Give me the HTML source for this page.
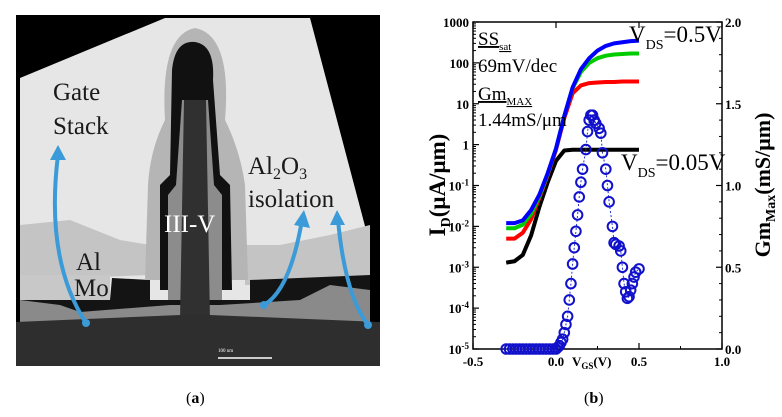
<!DOCTYPE html>
<html><head><meta charset="utf-8"><style>
body{margin:0;background:#fff;}
svg{display:block;font-family:"Liberation Serif",serif;}
</style></head><body>
<svg width="782" height="417" viewBox="0 0 782 417">
<g>
<rect x="16" y="15" width="364" height="351" fill="#000"/>
<polygon points="20,78 165,18 310,18 370,245 370,300 20,300" fill="#e6e6e6"/>
<polygon points="20,225 70,220 120,240 150,245 150,275 20,280" fill="#c4c4c4"/>
<polygon points="20,275 110,275 110,300 20,300" fill="#c8c8c8"/>
<polygon points="245,245 280,245 330,235 370,225 370,285 245,285" fill="#c4c4c4"/>
<polygon points="20,300 110,300 112,278 150,280 150,300 250,300 250,280 370,275 370,320 20,320" fill="#141414"/>
<polygon points="20,300 60,305 80,312 170,305 220,305 300,300 330,285 370,290 370,330 20,330" fill="#8a8a8a"/>
<rect x="16" y="322" width="364" height="44" fill="#3a3a3a"/>
<path d="M165,120 Q160,35 195,28 Q232,35 225,120 Q240,150 245,185 L248,280 L145,280 L148,185 Q150,150 165,120Z" fill="#b5b5b5"/>
<path d="M172,70 Q175,40 195,42 Q215,45 213,80 L220,175 L230,185 L232,290 L160,290 L160,185 L170,175Z" fill="#111"/>
<path d="M182,100 L208,100 L214,185 L222,195 L222,300 L168,300 L168,195 L176,185Z" fill="#8c8c8c"/>
<path d="M184,100 L206,100 L210,320 L180,320Z" fill="#303030"/>
<path d="M16,322 L180,315 L210,315 L380,322 L380,366 L16,366Z" fill="#2e2e2e"/>
<line x1="218" y1="358" x2="272" y2="358" stroke="#fff" stroke-width="1.5"/>
<text x="218" y="352" font-size="5" fill="#fff">100 nm</text>
<g fill="none" stroke="#3b9bd8" stroke-width="4">
<path d="M86,323 Q45,260 58,155"/>
<path d="M264,305 Q290,290 302,220"/>
<path d="M368,325 Q345,295 338,220"/>
</g>
<g fill="#3b9bd8">
<polygon points="50,160 58,145 66,160"/><polygon points="294,225 304,210 310,228"/><polygon points="330,225 337,210 345,225"/>
<circle cx="86" cy="323" r="4"/><circle cx="264" cy="305" r="4"/><circle cx="368" cy="325" r="4"/>
</g>
<g font-size="25" fill="#1a1a1a">
<text x="53" y="100">Gate</text>
<text x="53" y="134">Stack</text>
<text x="76" y="270">Al</text>
<text x="74" y="296">Mo</text>
<text x="248" y="174">Al<tspan font-size="16" dy="5">2</tspan><tspan dy="-5">O</tspan><tspan font-size="16" dy="5">3</tspan></text>
<text x="248" y="207">isolation</text>
<text x="164" y="232" fill="#fff">III-V</text>
</g>
</g>
<text x="186" y="403" font-size="16">(<tspan font-weight="bold">a</tspan>)</text>
<text x="584" y="403" font-size="16">(<tspan font-weight="bold">b</tspan>)</text>
<g id="chart"></g>
</svg>
<script>
const vgs=[-0.3,-0.25,-0.2,-0.15,-0.1,-0.05,0,0.05,0.1,0.15,0.2,0.25,0.3,0.35,0.4,0.45,0.5];
const idBlue=[0.012,0.012,0.014,0.025,0.06,0.2,0.8,5,25,70,130,200,260,300,320,340,350];
const idGreen=[0.009,0.009,0.011,0.02,0.055,0.19,0.8,5,24,60,100,130,150,160,165,170,170];
const idRed=[0.005,0.005,0.007,0.015,0.05,0.18,0.75,4.5,18,28,32,33,34,34,35,35,35];
const idBlack=[0.0013,0.0014,0.002,0.006,0.03,0.12,0.4,0.72,0.75,0.75,0.75,0.75,0.75,0.75,0.75,0.75,0.75];
const gmV=[-0.3,-0.28,-0.26,-0.24,-0.22,-0.2,-0.18,-0.16,-0.14,-0.12,-0.1,-0.08,-0.06,-0.04,-0.02,0,0.01,0.02,0.03,0.04,0.05,0.06,0.07,0.08,0.09,0.1,0.11,0.12,0.13,0.14,0.15,0.16,0.18,0.19,0.2,0.21,0.22,0.23,0.24,0.26,0.27,0.28,0.3,0.31,0.32,0.34,0.35,0.36,0.38,0.39,0.4,0.41,0.42,0.43,0.44,0.45,0.46,0.47,0.48,0.5];
const gmVal=[0,0,0,0,0,0,0,0,0,0,0,0,0,0,0,0,0.01,0.02,0.04,0.06,0.1,0.15,0.2,0.3,0.4,0.52,0.62,0.72,0.82,0.93,1.02,1.1,1.22,1.33,1.4,1.43,1.43,1.4,1.38,1.35,1.32,1.2,1.1,1.0,0.9,0.75,0.65,0.64,0.63,0.6,0.5,0.4,0.35,0.31,0.32,0.36,0.4,0.44,0.47,0.49];
const xTicks=[-0.5,0.0,0.5,1.0];
const xTickLabels=["-0.5","0.0","0.5","1.0"];
const yExp=[-5,-4,-3,-2,-1,0,1,2,3];
const yTickLabels=["10","10","10","10","10","1","10","100","1000"];
const ySup=["-5","-4","-3","-2","-1","","","",""];
const gmTicks=[0,0.5,1.0,1.5,2.0];
const gmTickLabels=["0.0","0.5","1.0","1.5","2.0"];
const L=473,R=722,T=22,B=349;
const xs=v=>L+(v+0.5)/1.5*(R-L);
const ys=v=>B-(Math.log10(v)+5)/8*(B-T);
const yg=v=>B-v/2*(B-T);
const NS="http://www.w3.org/2000/svg";
const g=document.getElementById('chart');
function mk(t,a,p){const e=document.createElementNS(NS,t);for(const k in a)e.setAttribute(k,a[k]);(p||g).appendChild(e);return e;}
const frame=mk('rect',{x:L,y:T,width:R-L,height:B-T,fill:'none',stroke:'#000','stroke-width':1.5});


yExp.forEach((e,i)=>{const y=ys(Math.pow(10,e));
mk('line',{x1:L,y1:y,x2:L+6,y2:y,stroke:'#000','stroke-width':1.2});
if(i<yExp.length-1)for(let m=2;m<10;m++){const ym=ys(m*Math.pow(10,e));mk('line',{x1:L,y1:ym,x2:L+3,y2:ym,stroke:'#000'});}
const t=mk('text',{x:L-4,y:y+5,'text-anchor':'end','font-size':13,'font-weight':'bold'});
t.textContent=yTickLabels[i];
if(ySup[i]){const s=mk('tspan',{'font-size':9,dy:-5},t);s.textContent=ySup[i];}

});
gmTicks.forEach((v,i)=>{const y=yg(v);mk('line',{x1:R-6,y1:y,x2:R,y2:y,stroke:'#000','stroke-width':1.2});
if(i<gmTicks.length-1)for(let k=1;k<5;k++){const yy=yg(v+k*0.1);mk('line',{x1:R-3,y1:yy,x2:R,y2:yy,stroke:'#000'});}
const t=mk('text',{x:R+3,y:y+5,'font-size':13,'font-weight':'bold'});t.textContent=gmTickLabels[i];

});
xTicks.forEach((v,i)=>{const x=xs(v);mk('line',{x1:x,y1:B,x2:x,y2:B-6,stroke:'#000','stroke-width':1.2});
mk('line',{x1:x,y1:T,x2:x,y2:T+6,stroke:'#000','stroke-width':1.2});
if(i<xTicks.length-1){const xm=xs(v+0.25);mk('line',{x1:xm,y1:B,x2:xm,y2:B-3,stroke:'#000'});}
const t=mk('text',{x:x,y:B+17,'text-anchor':'middle','font-size':13,'font-weight':'bold'});t.textContent=xTickLabels[i];

});
[[idBlack,'#000','id-black-vds-0.05'],[idRed,'#f00','id-red'],[idGreen,'#0c0','id-green'],[idBlue,'#00f','id-blue-vds-0.5']].forEach(([arr,c,n])=>{
const p=mk('polyline',{points:vgs.map((v,i)=>xs(v)+','+ys(arr[i])).join(' '),fill:'none',stroke:c,'stroke-width':4,'stroke-linejoin':'round'});

});
const gl=mk('polyline',{points:gmV.map((v,i)=>xs(v)+','+yg(gmVal[i])).join(' '),fill:'none',stroke:'#23c','stroke-width':1,'stroke-dasharray':'2,2'});


gmV.forEach((v,i)=>{const c=mk('circle',{cx:xs(v),cy:yg(gmVal[i]),r:4.8,fill:'none',stroke:'#11c','stroke-width':2});

});
function txt(x,y,s,h,n,extra){const t=mk('text',Object.assign({x:x,y:y,'font-size':s},extra||{}));t.innerHTML=h;

return t;}
txt(478,45,19,'<tspan text-decoration="underline">SS<tspan font-size="11" dy="5">sat</tspan></tspan>','ss-sat-label');
txt(478,72,19,'69mV/dec','ss-value');
txt(478,100,19,'<tspan text-decoration="underline">Gm<tspan font-size="11" dy="5">MAX</tspan></tspan>','gm-max-label');
txt(478,126,19,'1.44mS/μm','gm-max-value');
txt(629,42,23,'V<tspan font-size="14" dy="7">DS</tspan><tspan dy="-7">=0.5V</tspan>','vds-05-label');
txt(621,170,23,'V<tspan font-size="14" dy="7">DS</tspan><tspan dy="-7">=0.05V</tspan>','vds-005-label');
txt(572,366,13,'V<tspan font-size="9" dy="3">GS</tspan><tspan dy="-3">(V)</tspan>','x-axis-title',{'font-weight':'bold'});
txt(0,0,23,'I<tspan font-size="14" dy="5">D</tspan><tspan dy="-5">(μA/μm)</tspan>','y-axis-title',{'font-weight':'bold','text-anchor':'middle',transform:'translate(445,185) rotate(-90)'});
txt(0,0,22,'Gm<tspan font-size="14" dy="5">Max</tspan><tspan dy="-5">(mS/μm)</tspan>','gm-axis-title',{'font-weight':'bold','text-anchor':'middle',transform:'translate(770,185) rotate(-90)'});
</script>
</body></html>
